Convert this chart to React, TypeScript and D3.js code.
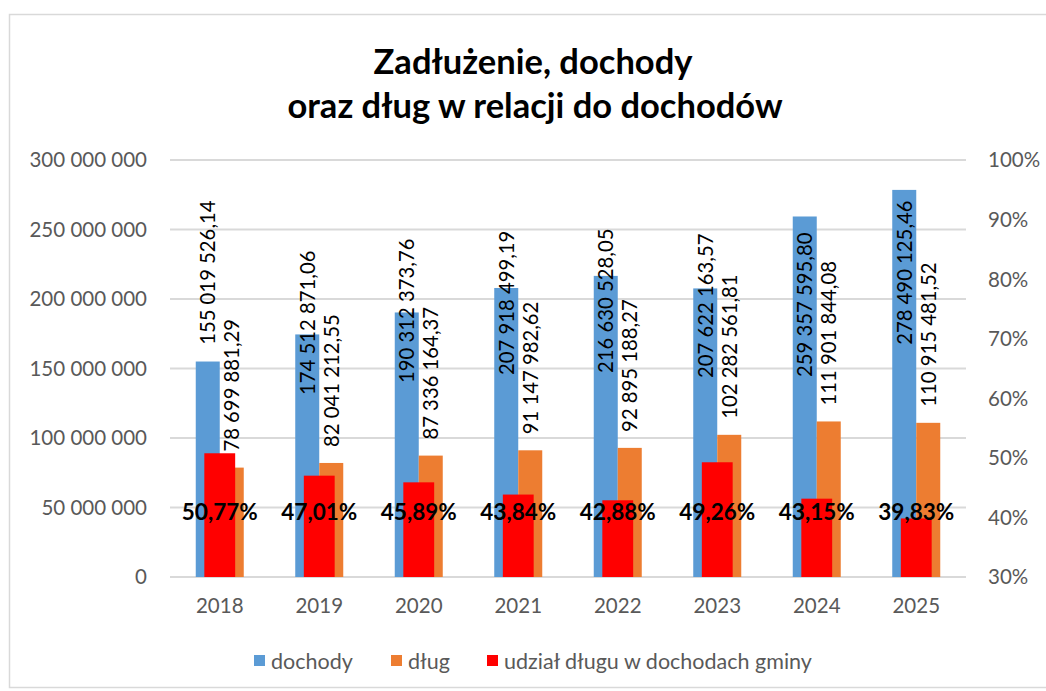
import React from "react";
import * as d3 from "d3";

const categories = ["2018", "2019", "2020", "2021", "2022", "2023", "2024", "2025"];
const dochody = [
  155019526.14, 174512871.06, 190312373.76, 207918499.19, 216630528.05, 207622163.57,
  259357595.8, 278490125.46,
];
const dlug = [
  78699881.29, 82041212.55, 87336164.37, 91147982.62, 92895188.27, 102282561.81,
  111901844.08, 110915481.52,
];
const udzial = [0.5077, 0.4701, 0.4589, 0.4384, 0.4288, 0.4926, 0.4315, 0.3983];
const leftTicks = [0, 50e6, 100e6, 150e6, 200e6, 250e6, 300e6];
const rightTicks = [0.3, 0.4, 0.5, 0.6, 0.7, 0.8, 0.9, 1.0];

// where the (manually placed) labels of dochody start, in axis units
const dochodyLabelAt = [167e6, 131e6, 139.6e6, 145.3e6, 146.8e6, 143.2e6, 143.9e6, 167e6];

const seriesNames = ["dochody", "dług", "udział długu w dochodach gminy"];
const colors = ["#5b9bd5", "#ed7d31", "#ff0000"];

const pl = d3.formatLocale({ decimal: ",", thousands: " ", grouping: [3], currency: ["", ""] });
const fmtMoney = pl.format(",.2f");
const fmtInt = pl.format(",d");
const fmtPct = pl.format(".2%");
const fmtPct0 = pl.format(".0%");

const W = 1046;
const H = 691;
const FONT = "Lato, 'Open Sans', sans-serif";

export default function App() {
  const left = 170;
  const right = 966;
  const top = 160;
  const bottom = 577;

  const x = d3.scaleBand().domain(categories).range([left, right]).padding(0);
  const inner = d3.scaleBand().domain(["d", "g"]).range([-24, 24]).paddingInner(0);
  const y = d3.scaleLinear().domain([0, 300e6]).range([bottom, top]);
  const y2 = d3.scaleLinear().domain([0.3, 1.0]).range([bottom, top]);
  const redW = x.bandwidth() * 0.31;
  const gap = 16;

  const legendItems = [
    { sq: 254, tx: 271 },
    { sq: 391, tx: 408 },
    { sq: 487, tx: 504 },
  ];

  return (
    <div style={{ position: "fixed", left: 0, top: 0 }}>
      <svg width={W} height={H} style={{ display: "block", background: "#fff" }} fontFamily={FONT}>
        <rect x={9.5} y={14.5} width={W + 10} height={673} fill="#fff" stroke="#d9d9d9" strokeWidth={1.5} />

        <text x={533} y={74} textAnchor="middle" fontSize={34.5} fontWeight="bold" fill="#000">
          Zadłużenie, dochody
        </text>
        <text x={535} y={118} textAnchor="middle" fontSize={34.5} fontWeight="bold" fill="#000">
          oraz dług w relacji do dochodów
        </text>

        {/* gridlines + left axis */}
        {leftTicks.map((t) => (
          <g key={t}>
            <line x1={left} x2={right} y1={y(t)} y2={y(t)} stroke="#d9d9d9" strokeWidth={1.8} />
            <text x={147} y={y(t)} dy="0.36em" textAnchor="end" fontSize={20.5} fill="#595959">
              {fmtInt(t)}
            </text>
          </g>
        ))}

        {/* right axis */}
        {rightTicks.map((t) => (
          <text key={t} x={988} y={y2(t)} dy="0.36em" textAnchor="start" fontSize={20.5} fill="#595959">
            {fmtPct0(t)}
          </text>
        ))}

        {/* x axis labels */}
        {categories.map((c) => (
          <text key={c} x={x(c)! + x.bandwidth() / 2} y={606} dy="0.36em" textAnchor="middle" fontSize={20.5} fill="#595959">
            {c}
          </text>
        ))}

        {/* primary bars */}
        {categories.map((c, i) => {
          const cx = x(c)! + x.bandwidth() / 2;
          return (
            <g key={c}>
              <rect x={cx + inner("d")!} width={inner.bandwidth()} y={y(dochody[i])} height={y(0) - y(dochody[i])} fill={colors[0]} />
              <rect x={cx + inner("g")!} width={inner.bandwidth()} y={y(dlug[i])} height={y(0) - y(dlug[i])} fill={colors[1]} />
            </g>
          );
        })}

        {/* secondary bars */}
        {categories.map((c, i) => {
          const cx = x(c)! + x.bandwidth() / 2;
          return (
            <rect key={c} x={cx - redW / 2} width={redW} y={y2(udzial[i])} height={y2(0.3) - y2(udzial[i])} fill={colors[2]} />
          );
        })}

        {/* value labels */}
        {categories.map((c, i) => {
          const cx = x(c)! + x.bandwidth() / 2;
          const bx = cx + inner("d")! + inner.bandwidth() / 2;
          const ox = cx + inner("g")! + inner.bandwidth() / 2;
          return (
            <g key={c} fontSize={20.3} fill="#000">
              <text transform={`translate(${bx},${y(dochodyLabelAt[i])}) rotate(-90)`} dy="0.36em" textAnchor="start">
                {fmtMoney(dochody[i])}
              </text>
              <text transform={`translate(${ox},${y(dlug[i]) - gap}) rotate(-90)`} dy="0.36em" textAnchor="start">
                {fmtMoney(dlug[i])}
              </text>
            </g>
          );
        })}

        {/* percent labels */}
        {categories.map((c, i) => (
          <text key={c} x={x(c)! + x.bandwidth() / 2} y={512} dy="0.36em" textAnchor="middle" fontSize={22.5} fontWeight="bold" fill="#000">
            {fmtPct(udzial[i])}
          </text>
        ))}

        {/* legend */}
        {seriesNames.map((s, i) => (
          <g key={s}>
            <rect x={legendItems[i].sq} y={655} width={11} height={11} fill={colors[i]} />
            <text x={legendItems[i].tx} y={661} dy="0.36em" fontSize={21.5} fill="#595959">
              {s}
            </text>
          </g>
        ))}
      </svg>
    </div>
  );
}
